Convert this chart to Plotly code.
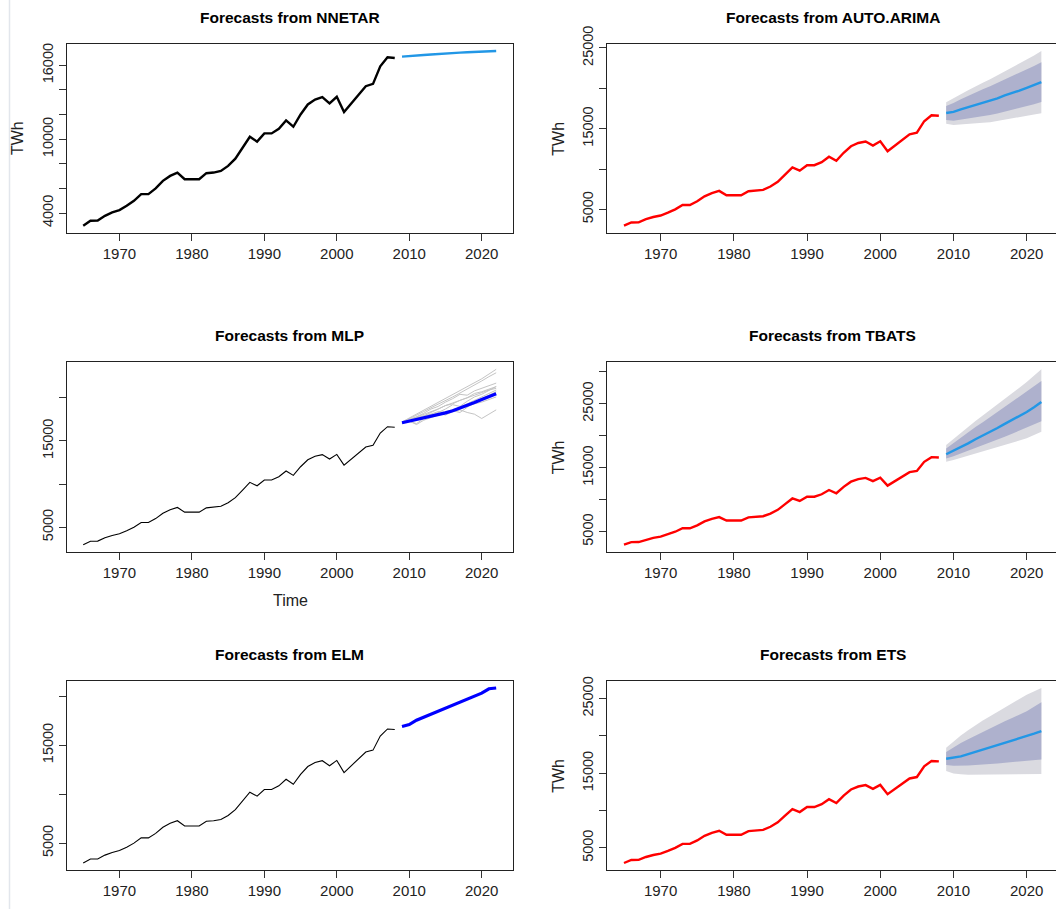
import plotly.graph_objects as go

# ---- data -------------------------------------------------------------
years_hist = list(range(1965, 2009))
twh_hist = [2975, 3380, 3390, 3780, 4050, 4240, 4590, 5000, 5540, 5540,
            6000, 6620, 7020, 7290, 6750, 6760, 6750, 7240, 7290, 7420,
            7830, 8420, 9310, 10200, 9800, 10470, 10470, 10850, 11520, 11010,
            12010, 12820, 13220, 13410, 12900, 13440, 12200, 12900, 13630, 14300,
            14490, 15920, 16650, 16590]

years_fc = list(range(2009, 2023))

nnetar_mean = [16700, 16730, 16790, 16830, 16880, 16930, 16960,
               17000, 17030, 17060, 17100, 17120, 17140, 17160]

arima_mean = [16940, 17080, 17380, 17660, 17960, 18200, 18460,
              18760, 19120, 19380, 19720, 20060, 20400, 20770]
arima_lo80 = [16060, 15980, 16110, 16240, 16410, 16530, 16680,
              16870, 17130, 17300, 17540, 17790, 18030, 18300]
arima_hi80 = [17820, 18180, 18650, 19080, 19510, 19870, 20240,
              20650, 21110, 21460, 21900, 22330, 22770, 23240]
arima_lo95 = [15620, 15450, 15500, 15560, 15650, 15720, 15800,
              15920, 16110, 16230, 16390, 16570, 16740, 16920]
arima_hi95 = [18260, 18710, 19260, 19760, 20270, 20680, 21120,
              21600, 22130, 22530, 23050, 23550, 24060, 24620]

tbats_mean = [17100, 17650, 18250, 18800, 19450, 20000, 20600,
              21200, 21850, 22450, 23050, 23700, 24450, 25250]
tbats_lo80 = [16420, 16800, 17250, 17650, 18100, 18500, 18950,
              19400, 19850, 20300, 20750, 21200, 21750, 22260]
tbats_hi80 = [18000, 18850, 19700, 20500, 21350, 22100, 22900,
              23700, 24550, 25300, 26050, 26850, 27700, 28530]
tbats_lo95 = [15950, 16200, 16550, 16850, 17200, 17500, 17850,
              18200, 18550, 18900, 19250, 19600, 20100, 20630]
tbats_hi95 = [18530, 19500, 20450, 21350, 22300, 23150, 24000,
              24900, 25800, 26650, 27500, 28400, 29350, 30370]

ets_mean = [16940, 17100, 17250, 17550, 17850, 18100, 18400,
            18700, 19000, 19300, 19600, 19950, 20300, 20640]
ets_lo80 = [16100, 16000, 16000, 16050, 16100, 16150, 16250,
            16300, 16400, 16450, 16550, 16650, 16750, 16850]
ets_hi80 = [17840, 18500, 19050, 19550, 20050, 20550, 21000,
            21500, 21950, 22400, 22850, 23300, 23900, 24520]
ets_lo95 = [15300, 14950, 14850, 14800, 14780, 14780, 14790,
            14800, 14810, 14830, 14850, 14870, 14890, 14910]
ets_hi95 = [18430, 19300, 20050, 20750, 21450, 22050, 22650,
            23250, 23850, 24400, 24950, 25500, 26000, 26420]

mlp_mean = [17110, 17300, 17450, 17600, 17800, 18000, 18250,
            18500, 18800, 19100, 19450, 19800, 20150, 20470]
mlp_sim_1 = [17200, 17650, 18100, 18550, 19000, 19450, 19900, 20350, 20800, 21250, 21700, 22200, 22750, 23300]
mlp_sim_2 = [17150, 17550, 17950, 18400, 18850, 19250, 19700, 20100, 20550, 21000, 21450, 21950, 22450, 22900]
mlp_sim_3 = [17100, 17400, 17800, 18200, 18700, 19000, 19500, 19900, 20400, 20300, 20800, 21100, 21400, 21700]
mlp_sim_4 = [17050, 17300, 17000, 17600, 17900, 18300, 18700, 19200, 19000, 19600, 20100, 20400, 20900, 21300]
mlp_sim_5 = [17100, 17350, 17600, 17900, 18300, 18700, 19100, 19400, 19700, 20000, 20300, 20600, 20900, 21100]
mlp_sim_6 = [17150, 17500, 17700, 17900, 18100, 18400, 18300, 18600, 18900, 19300, 19700, 20100, 20500, 20900]
mlp_sim_7 = [17100, 17400, 17650, 17700, 18000, 18100, 18400, 18500, 18300, 18900, 19500, 19900, 20300, 20700]
mlp_sim_8 = [17100, 17300, 17500, 17800, 18000, 18200, 18000, 18400, 18600, 18300, 18100, 17600, 18100, 18600]
mlp_sim_9 = [17050, 17300, 16900, 17400, 17700, 18000, 18200, 18500, 18700, 19000, 19300, 19500, 19800, 20100]
mlp_sim_10 = [17150, 17450, 17800, 18100, 18400, 18700, 19100, 19300, 19700, 20000, 20500, 20700, 21000, 21300]
mlp_sims = [mlp_sim_1, mlp_sim_2, mlp_sim_3, mlp_sim_4, mlp_sim_5,
            mlp_sim_6, mlp_sim_7, mlp_sim_8, mlp_sim_9, mlp_sim_10]

elm_mean = [16900, 17100, 17550, 17850, 18150, 18450, 18750,
            19050, 19350, 19650, 19950, 20300, 20750, 20830]

x_ticks = [1970, 1980, 1990, 2000, 2010, 2020]

# ---- styling ------------------------------------------------------------
FONT = "Arial, Liberation Sans, sans-serif"
W, H = 1056, 909
RED = "#FF0000"
SKY = "#2297E6"
BLUE = "#0000FF"
SHADE95 = "#DADAE0"
SHADE80 = "#AEB1CD"

left_dom = [66.7 / W, 512.7 / W]
right_dom = [607.3 / W, 1.0]
rows_px = [(44, 232.7), (362.3, 551.7), (681, 870)]
row_dom = [[1 - b / H, 1 - t / H] for t, b in rows_px]

fig = go.Figure()


def yticks(lo, hi, step, labelled):
    vals = list(range(lo, hi + 1, step))
    text = [f"{v}" if v in labelled else "" for v in vals]
    return vals, text


def padded(values):
    lo, hi = min(values), max(values)
    d = (hi - lo) * 0.04
    return [lo - d, hi + d]


def add_band(ax, lo, hi, color):
    fig.add_trace(go.Scatter(
        x=years_fc + years_fc[::-1], y=hi + lo[::-1], fill="toself",
        fillcolor=color, line=dict(width=0), mode="lines",
        hoverinfo="skip", showlegend=False, xaxis=f"x{ax}", yaxis=f"y{ax}"))


def add_line(ax, x, y, color, width):
    fig.add_trace(go.Scatter(
        x=x, y=y, mode="lines", line=dict(color=color, width=width),
        showlegend=False, xaxis=f"x{ax}", yaxis=f"y{ax}"))


# panel 1: NNETAR
add_line(1, years_hist, twh_hist, "black", 2.4)
add_line(1, years_fc, nnetar_mean, SKY, 2.4)

# panel 2: AUTO.ARIMA
add_band(2, arima_lo95, arima_hi95, SHADE95)
add_band(2, arima_lo80, arima_hi80, SHADE80)
add_line(2, years_hist, twh_hist, RED, 2.4)
add_line(2, years_fc, arima_mean, SKY, 2.4)

# panel 3: MLP
for sim in mlp_sims:
    add_line(3, years_fc, sim, "#C4C4C4", 1)
add_line(3, years_hist, twh_hist, "black", 1.1)
add_line(3, years_fc, mlp_mean, BLUE, 3.2)

# panel 4: TBATS
add_band(4, tbats_lo95, tbats_hi95, SHADE95)
add_band(4, tbats_lo80, tbats_hi80, SHADE80)
add_line(4, years_hist, twh_hist, RED, 2.4)
add_line(4, years_fc, tbats_mean, SKY, 2.4)

# panel 5: ELM
add_line(5, years_hist, twh_hist, "black", 1.1)
add_line(5, years_fc, elm_mean, BLUE, 3.2)

# panel 6: ETS
add_band(6, ets_lo95, ets_hi95, SHADE95)
add_band(6, ets_lo80, ets_hi80, SHADE80)
add_line(6, years_hist, twh_hist, RED, 2.4)
add_line(6, years_fc, ets_mean, SKY, 2.4)

panels = [
    # axis, row, col, title, y values in panel, y ticks, labelled ticks, ylabel
    (1, 0, 0, "Forecasts from NNETAR", twh_hist + nnetar_mean,
     (4000, 16000, 2000), [4000, 10000, 16000], True),
    (2, 0, 1, "Forecasts from AUTO.ARIMA", twh_hist + arima_hi95 + arima_lo95,
     (5000, 25000, 5000), [5000, 15000, 25000], True),
    (3, 1, 0, "Forecasts from MLP", twh_hist + mlp_mean + sum(mlp_sims, []),
     (5000, 20000, 5000), [5000, 15000], False),
    (4, 1, 1, "Forecasts from TBATS", twh_hist + tbats_hi95 + tbats_lo95,
     (5000, 30000, 5000), [5000, 15000, 25000], True),
    (5, 2, 0, "Forecasts from ELM", twh_hist + elm_mean,
     (5000, 20000, 5000), [5000, 15000], False),
    (6, 2, 1, "Forecasts from ETS", twh_hist + ets_hi95 + ets_lo95,
     (5000, 25000, 5000), [5000, 15000, 25000], True),
]

x_tick_font = dict(family=FONT, size=15, color="#222222")
y_tick_font = dict(family=FONT, size=14.5, color="#222222")
annotations = []
for ax, r, c, title, vals, (t0, t1, ts), labelled, ylab in panels:
    xdom = left_dom if c == 0 else right_dom
    ydom = row_dom[r]
    xr = [1962.72, 2024.28] if c == 0 else [1962.72, 2024.0]
    tv, tt = yticks(t0, t1, ts, labelled)
    sfx = "" if ax == 1 else str(ax)
    fig.layout["xaxis" + sfx] = dict(
        domain=xdom, range=xr, anchor=f"y{ax}", tickvals=x_ticks,
        ticks="outside", ticklen=7, tickwidth=1, tickcolor="#333333",
        showline=True, linecolor="#222222", linewidth=1.3, mirror=True,
        showgrid=False, zeroline=False, tickfont=x_tick_font,
        automargin=False)
    fig.layout["yaxis" + sfx] = dict(
        domain=ydom, range=padded(vals), anchor=f"x{ax}",
        tickvals=tv, ticktext=tt, tickangle=-90,
        ticks="outside", ticklen=7, tickwidth=1, tickcolor="#333333",
        showline=True, linecolor="#222222", linewidth=1.3,
        mirror=(c == 0), showgrid=False, zeroline=False, tickfont=y_tick_font,
        automargin=False)

    x0_px = xdom[0] * W
    cx = (x0_px + (512.7 if c == 0 else 1058)) / 2
    top_px, bot_px = rows_px[r]
    annotations.append(dict(
        text=f"<b>{title}</b>", x=cx / W, y=1 - (top_px - 27) / H,
        xref="paper", yref="paper", showarrow=False,
        xanchor="center", yanchor="middle",
        font=dict(family=FONT, size=15.5, color="black")))
    if ylab:
        annotations.append(dict(
            text="TWh", textangle=-90, x=(x0_px - 49) / W,
            y=1 - (top_px + bot_px) / 2 / H, xref="paper", yref="paper",
            showarrow=False, xanchor="center", yanchor="middle",
            font=dict(family=FONT, size=16, color="#222222")))

annotations.append(dict(
    text="Time", x=290 / W, y=1 - 600 / H, xref="paper", yref="paper",
    showarrow=False, xanchor="center", yanchor="middle",
    font=dict(family=FONT, size=16, color="#222222")))

fig.update_layout(
    width=W, height=H, margin=dict(l=0, r=0, t=0, b=0, autoexpand=False),
    paper_bgcolor="white", plot_bgcolor="white",
    annotations=annotations,
    shapes=[dict(type="line", xref="paper", yref="paper",
                 x0=9.5 / W, x1=9.5 / W, y0=0, y1=1,
                 line=dict(color="#E2E6EC", width=1.5))],
)

fig.write_html("out.html")
